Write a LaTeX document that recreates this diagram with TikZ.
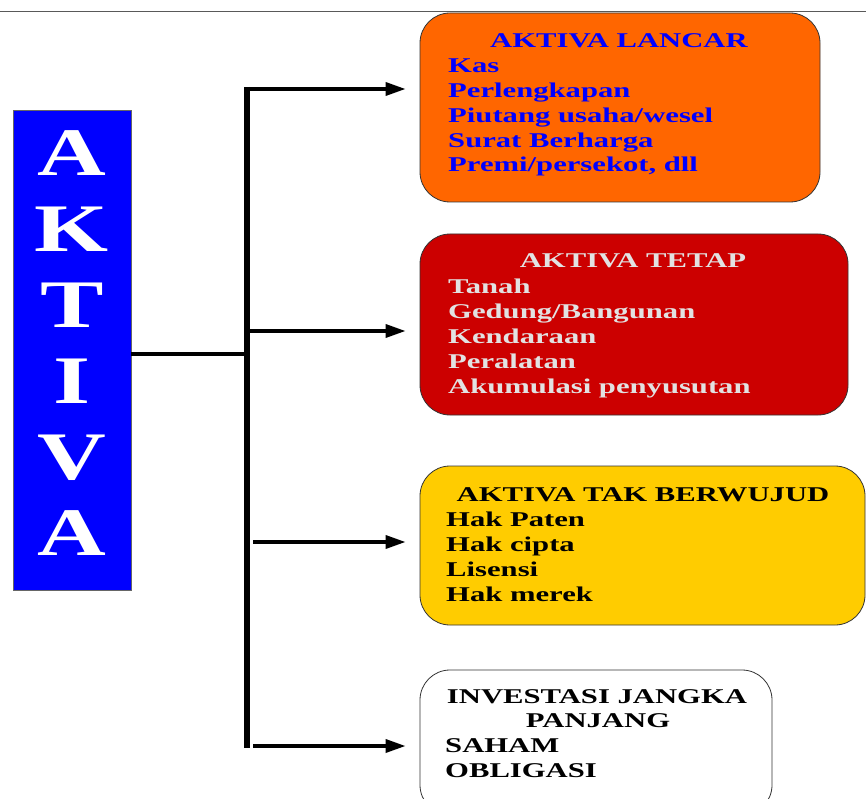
\documentclass[tikz,border=0pt]{standalone}
\usepackage{fontspec}
\setmainfont{Liberation Serif}
\newfontfamily\caixafont[FakeStretch=1.46]{Liberation Serif}
\newfontfamily\letrafont[FakeStretch=1.4]{Liberation Serif}
\usetikzlibrary{arrows.meta}

\definecolor{azul}{HTML}{0000FF}
\definecolor{laranja}{HTML}{FF6600}
\definecolor{vermelho}{HTML}{CC0000}
\definecolor{amarelo}{HTML}{FFCC00}
\definecolor{cinzaclaro}{HTML}{E2E2E2}

\begin{document}
\begin{tikzpicture}[x=1pt,y=-1pt]
  \useasboundingbox (0,0) rectangle (866,799);

  %--------------------------------------------
  % Tamanhos e posições
  %--------------------------------------------
  \def\szl{24.8}   % espaçamento entre linhas
  \def\xit{448}    % margem esquerda dos itens

  %--------------------------------------------
  % Estilos
  %--------------------------------------------
  \tikzstyle{caixa} = [
    draw=black!80, rectangle, line width=.8pt,   % contorno fino
    rounded corners=30pt, inner sep=0pt          % cantos arredondados
  ]
  \tikzstyle{titulo} = [
    anchor=base, inner sep=0pt,
    font=\caixafont\bfseries\fontsize{21}{25}\selectfont
  ]
  \tikzstyle{item} = [
    anchor=base west, inner sep=0pt,
    font=\caixafont\bfseries\fontsize{21}{25}\selectfont
  ]
  \tikzstyle{letra} = [
    anchor=base, inner sep=0pt, text=white,
    font=\letrafont\bfseries\fontsize{68}{76}\selectfont
  ]
  \tikzstyle{seta} = [
    line width=3.5pt, -{Triangle[length=20pt,width=13pt]},
    shorten >=14pt
  ]

  %--------------------------------------------
  % Linha cinza do topo
  %--------------------------------------------
  \draw[black!65, line width=1pt] (0,12) -- (866,12);

  %--------------------------------------------
  % Bloco AKTIVA
  %--------------------------------------------
  \node[draw=black!60, fill=azul, rectangle, inner sep=0pt,
        minimum width=118pt, minimum height=480pt] (aktiva) at (72,350) {};
  \foreach [count=\i] \l in {A,K,T,I,V,A}
    \node[letra] (letra-\i) at (72,{176+(\i-1)*75.8}) {\l};

  %--------------------------------------------
  % Caixas
  %--------------------------------------------
  \node[caixa, fill=laranja, minimum width=400pt, minimum height=189pt] (lancar) at (620,107.5) {};
  \node[caixa, fill=vermelho, minimum width=428pt, minimum height=181pt] (tetap) at (634,324.5) {};
  \node[caixa, fill=amarelo, minimum width=445pt, minimum height=159pt] (takwujud) at (642.5,545.5) {};
  \node[caixa, fill=white, minimum width=352pt, minimum height=145pt] (investasi) at (596,742.5) {};

  %--------------------------------------------
  % Textos: aktiva lancar
  %--------------------------------------------
  \node[titulo, text=azul] (lancar-t) at (619,48) {AKTIVA LANCAR};
  \foreach [count=\i] \txt in {Kas,Perlengkapan,Piutang usaha/wesel,Surat Berharga,{Premi/persekot, dll}}
    \node[item, text=azul] (lancar-\i) at (\xit,{48+\i*\szl}) {\txt};

  %--------------------------------------------
  % Textos: aktiva tetap
  %--------------------------------------------
  \node[titulo, text=cinzaclaro] (tetap-t) at (633,268) {AKTIVA TETAP};
  \foreach [count=\i] \txt in {Tanah,Gedung/Bangunan,Kendaraan,Peralatan,Akumulasi penyusutan}
    \node[item, text=cinzaclaro] (tetap-\i) at (\xit,{268+\i*25}) {\txt};

  %--------------------------------------------
  % Textos: aktiva tak berwujud
  %--------------------------------------------
  \node[titulo] (takwujud-t) at (643,501) {AKTIVA TAK BERWUJUD};
  \foreach [count=\i] \txt in {Hak Paten,Hak cipta,Lisensi,Hak merek}
    \node[item] (takwujud-\i) at (446,{501+\i*25}) {\txt};

  %--------------------------------------------
  % Textos: investasi jangka panjang
  %--------------------------------------------
  \node[titulo] (investasi-t1) at (597,703) {INVESTASI JANGKA};
  \node[titulo] (investasi-t2) at (598,727) {PANJANG};
  \foreach [count=\i] \txt in {SAHAM,OBLIGASI}
    \node[item] (investasi-\i) at (445,{727+\i*25}) {\txt};

  %--------------------------------------------
  % Ligações
  %--------------------------------------------
  \coordinate (hub) at (247,354);
  \coordinate (topo) at (247,87);
  \coordinate (base) at (247,748);
  \coordinate (s1) at (247,89);
  \coordinate (s2) at (250,331);
  \coordinate (s3) at (253,542);
  \coordinate (s4) at (253,746);

  \draw[line width=6pt] (topo) -- (base);
  \draw[line width=3.5pt] (aktiva.east |- hub) -- (hub);
  \draw[seta] (s1) -- (lancar.west |- s1);
  \draw[seta] (s2) -- (tetap.west |- s2);
  \draw[seta] (s3) -- (takwujud.west |- s3);
  \draw[seta] (s4) -- (investasi.west |- s4);
\end{tikzpicture}
\end{document}
